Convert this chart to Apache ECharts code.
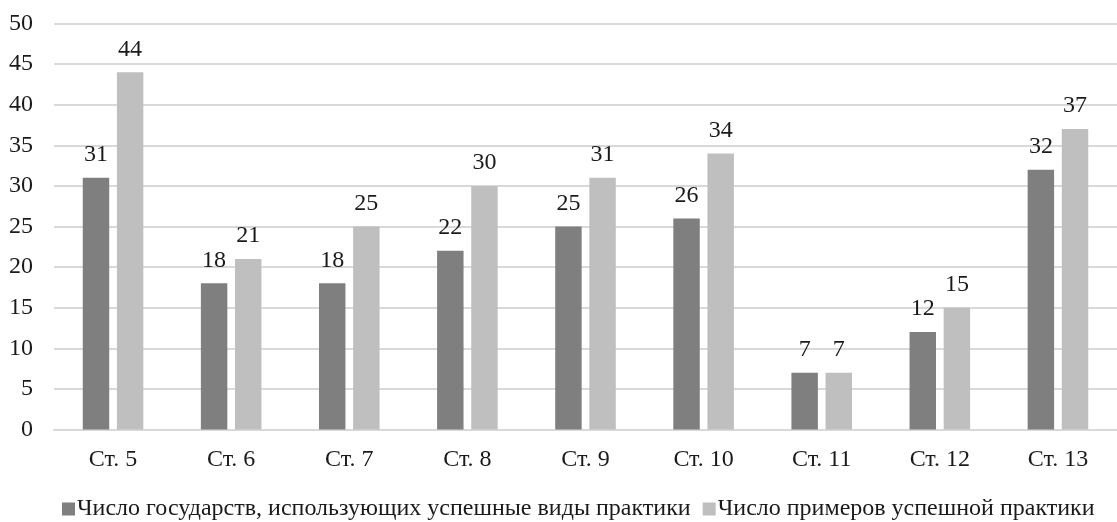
<!DOCTYPE html>
<html>
<head>
<meta charset="utf-8">
<script src="https://cdn.jsdelivr.net/npm/echarts@6/dist/echarts.min.js"></script>
<style>
  html, body { margin: 0; padding: 0; background: #fff; }
  #chart { width: 1117px; height: 522px; }
</style>
</head>
<body>
<div id="chart"></div>
<script>
// Categories and values
const categories = ['Ст. 5', 'Ст. 6', 'Ст. 7', 'Ст. 8', 'Ст. 9', 'Ст. 10', 'Ст. 11', 'Ст. 12', 'Ст. 13'];
const statesUsing = [31, 18, 18, 22, 25, 26, 7, 12, 32];
const examplesCount = [44, 21, 25, 30, 31, 34, 7, 15, 37];
const seriesNames = [
  'Число государств, использующих успешные виды практики',
  'Число примеров успешной практики'
];

const FONT = "'Liberation Serif', 'Times New Roman', serif";
const TEXT = '#1a1a1a';
const FS = 24;

const chart = echarts.init(document.getElementById('chart'));

const labelStyle = {
  show: true,
  position: 'top',
  distance: 11,
  fontFamily: FONT,
  fontSize: FS,
  color: TEXT
};

chart.setOption({
  animation: false,
  grid: { left: 54, top: 23.5, width: 1074, height: 406 },
  xAxis: {
    type: 'category',
    data: categories,
    axisTick: { show: false },
    axisLine: { lineStyle: { color: '#d9d9d9', width: 2 } },
    axisLabel: { fontFamily: FONT, fontSize: FS, color: TEXT, margin: 18 }
  },
  yAxis: {
    type: 'value',
    min: 0,
    max: 50,
    interval: 5,
    axisLine: { show: false },
    axisTick: { show: false },
    splitLine: { lineStyle: { color: '#d9d9d9', width: 2 } },
    axisLabel: { fontFamily: FONT, fontSize: FS, color: TEXT, margin: 21 }
  },
  legend: {
    top: 497,
    left: 62,
    padding: 0,
    itemWidth: 13,
    itemHeight: 13,
    itemGap: 12,
    icon: 'rect',
    textStyle: { fontFamily: FONT, fontSize: FS, color: TEXT, padding: [0, 0, 0, -3] },
    data: seriesNames
  },
  series: [
    {
      name: seriesNames[0],
      type: 'bar',
      data: statesUsing,
      barWidth: '22.4%',
      barGap: '29%',
      itemStyle: { color: '#7f7f7f' },
      label: labelStyle
    },
    {
      name: seriesNames[1],
      type: 'bar',
      data: examplesCount,
      barWidth: '22.4%',
      itemStyle: { color: '#bfbfbf' },
      label: labelStyle
    }
  ]
});
</script>
</body>
</html>
